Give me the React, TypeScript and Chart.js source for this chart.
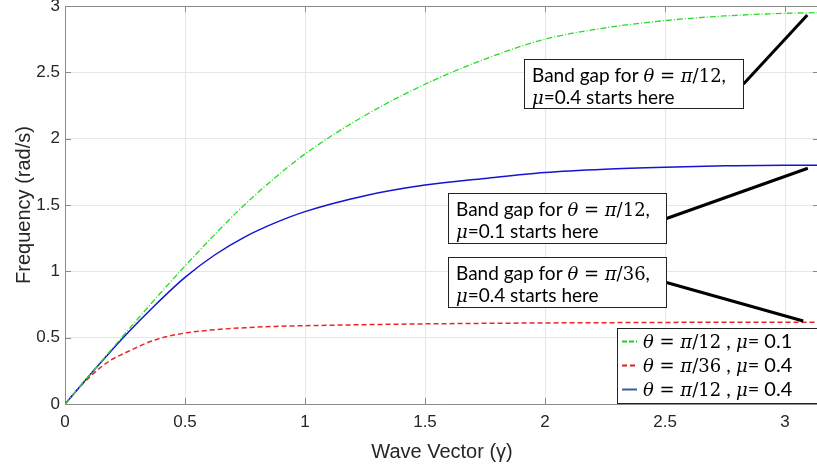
import { useEffect, useRef } from 'react';
import { Chart, registerables } from 'chart.js';

Chart.register(...registerables);

// ---- data ----
const gamma = [0, 0.0625, 0.125, 0.1875, 0.25, 0.375, 0.5, 0.625, 0.75, 0.875, 1.0, 1.25, 1.5, 1.75, 2.0, 2.25, 2.5, 2.75, 3.0, 3.1416];
const freqPi12Mu01 = [0, 0.133, 0.266, 0.398, 0.53, 0.79, 1.04, 1.28, 1.505, 1.705, 1.885, 2.175, 2.41, 2.6, 2.75, 2.835, 2.89, 2.925, 2.945, 2.95];
const freqPi36Mu04 = [0, 0.13, 0.24, 0.327, 0.385, 0.483, 0.535, 0.56, 0.575, 0.585, 0.59, 0.598, 0.604, 0.608, 0.611, 0.613, 0.615, 0.616, 0.617, 0.617];
const freqPi12Mu04 = [0, 0.132, 0.263, 0.39, 0.515, 0.745, 0.955, 1.125, 1.26, 1.365, 1.45, 1.57, 1.65, 1.7, 1.745, 1.77, 1.785, 1.795, 1.8, 1.8];

const xTickValues = [0, 0.5, 1, 1.5, 2, 2.5, 3];
const yTickValues = [0, 0.5, 1, 1.5, 2, 2.5, 3];
const xTitle = 'Wave Vector (\u03b3)';
const yTitle = 'Frequency (rad/s)';

type Seg = [string, 'sans' | 'math' | 'mathI' | 'lsans'];

const legendRows: Seg[][] = [
  [['\u03b8', 'mathI'], [' = ', 'math'], ['\u03c0', 'mathI'], ['/12', 'math'], [' , ', 'lsans'], ['\u03bc', 'mathI'], ['= 0.1', 'lsans']],
  [['\u03b8', 'mathI'], [' = ', 'math'], ['\u03c0', 'mathI'], ['/36', 'math'], [' , ', 'lsans'], ['\u03bc', 'mathI'], ['= 0.4', 'lsans']],
  [['\u03b8', 'mathI'], [' = ', 'math'], ['\u03c0', 'mathI'], ['/12', 'math'], [' , ', 'lsans'], ['\u03bc', 'mathI'], ['= 0.4', 'lsans']],
];

// annotation boxes: anchor of box (data units), connector end (data units)
const annotations = [
  {
    box: { x: 1.9125, y: 2.6 }, w: 219, h: 49,
    end: { x: 3.093, y: 2.932 },
    lines: [
      [['Band gap for ', 'sans'], ['\u03b8', 'mathI'], [' = ', 'math'], ['\u03c0', 'mathI'], ['/12', 'math'], [',', 'sans']],
      [['\u03bc', 'mathI'], ['=0.4 starts here', 'sans']],
    ] as Seg[][],
  },
  {
    box: { x: 1.597, y: 1.593 }, w: 218, h: 50,
    end: { x: 3.095, y: 1.777 },
    lines: [
      [['Band gap for ', 'sans'], ['\u03b8', 'mathI'], [' = ', 'math'], ['\u03c0', 'mathI'], ['/12', 'math'], [',', 'sans']],
      [['\u03bc', 'mathI'], ['=0.1 starts here', 'sans']],
    ] as Seg[][],
  },
  {
    box: { x: 1.597, y: 1.106 }, w: 218, h: 50,
    end: { x: 3.076, y: 0.626 },
    lines: [
      [['Band gap for ', 'sans'], ['\u03b8', 'mathI'], [' = ', 'math'], ['\u03c0', 'mathI'], ['/36', 'math'], [',', 'sans']],
      [['\u03bc', 'mathI'], ['=0.4 starts here', 'sans']],
    ] as Seg[][],
  },
];

const FONTS: Record<string, string> = {
  sans: '19px Lato',
  lsans: '20px Lato',
  math: '18px "DejaVu Serif"',
  mathI: 'italic 18px "DejaVu Serif"',
};

const AXIS_COLOR = '#8a8a8a';
const TEXT_COLOR = '#262626';

function drawRich(ctx: CanvasRenderingContext2D, segs: Seg[], x: number, y: number) {
  let cx = x;
  for (const [t, f] of segs) {
    ctx.font = FONTS[f];
    ctx.fillText(t, cx, y);
    cx += ctx.measureText(t).width;
  }
}

const axisDecor = {
  id: 'axisDecor',
  beforeDatasetsDraw(chart: any) {
    const { ctx, chartArea: a, scales } = chart;
    const x = scales.x, y = scales.y;
    ctx.save();
    ctx.strokeStyle = AXIS_COLOR;
    ctx.lineWidth = 1;
    ctx.beginPath();
    ctx.moveTo(a.left, a.top + 0.5);
    ctx.lineTo(a.right, a.top + 0.5);
    ctx.moveTo(a.right - 0.5, a.top);
    ctx.lineTo(a.right - 0.5, a.bottom);
    for (const v of xTickValues) {
      const px = Math.round(x.getPixelForValue(v)) + 0.5;
      ctx.moveTo(px, a.bottom);
      ctx.lineTo(px, a.bottom - 6);
      ctx.moveTo(px, a.top);
      ctx.lineTo(px, a.top + 6);
    }
    for (const v of yTickValues) {
      const py = Math.round(y.getPixelForValue(v)) + 0.5;
      ctx.moveTo(a.left, py);
      ctx.lineTo(a.left + 6, py);
      ctx.moveTo(a.right, py);
      ctx.lineTo(a.right - 6, py);
    }
    ctx.stroke();
    ctx.restore();
  },
};

const overlays = {
  id: 'overlays',
  afterDraw(chart: any) {
    const { ctx, scales } = chart;
    const x = scales.x, y = scales.y;
    ctx.save();
    ctx.textBaseline = 'alphabetic';
    ctx.textAlign = 'left';
    // annotations
    for (const an of annotations) {
      const bx = Math.round(x.getPixelForValue(an.box.x)) + 0.5;
      const by = Math.round(y.getPixelForValue(an.box.y)) + 0.5;
      const ex = x.getPixelForValue(an.end.x);
      const ey = y.getPixelForValue(an.end.y);
      ctx.strokeStyle = '#000';
      ctx.lineWidth = 3;
      ctx.beginPath();
      ctx.moveTo(bx + an.w, by + an.h / 2);
      ctx.lineTo(ex, ey);
      ctx.stroke();
      ctx.fillStyle = '#fff';
      ctx.fillRect(bx, by, an.w, an.h);
      ctx.strokeStyle = '#222';
      ctx.lineWidth = 1;
      ctx.strokeRect(bx, by, an.w, an.h);
      ctx.fillStyle = '#000';
      drawRich(ctx, an.lines[0], bx + 7.5, by + 22);
      drawRich(ctx, an.lines[1], bx + 7.5, by + 44.5);
    }
    // legend
    const lx = 617.5, ly = 328.5;
    ctx.fillStyle = '#fff';
    ctx.fillRect(lx, ly, chart.width - lx + 5, 75);
    ctx.strokeStyle = '#222';
    ctx.lineWidth = 1;
    ctx.strokeRect(lx, ly, chart.width - lx + 5, 75);
    chart.data.datasets.forEach((ds: any, i: number) => {
      const base = 347.5 + i * 24;
      ctx.strokeStyle = ds.legendColor;
      ctx.lineWidth = 2;
      ctx.setLineDash(ds.legendDash);
      ctx.beginPath();
      ctx.moveTo(622, base - 6);
      ctx.lineTo(637, base - 6);
      ctx.stroke();
      ctx.setLineDash([]);
      ctx.fillStyle = '#000';
      drawRich(ctx, legendRows[i], 643, base);
    });
    ctx.restore();
  },
};

export default function App() {
  const ref = useRef<HTMLCanvasElement | null>(null);
  useEffect(() => {
    if (!ref.current) return;
    const pts = (vals: number[]) => gamma.map((g, i) => ({ x: g, y: vals[i] }));
    const chart = new Chart(ref.current, {
      type: 'line',
      data: {
        datasets: [
          {
            label: '\u03b8 = \u03c0/12 , \u03bc= 0.1',
            data: pts(freqPi12Mu01),
            borderColor: '#25dd25',
            borderWidth: 1.3,
            borderDash: [6, 2, 1, 2],
            pointRadius: 0,
            cubicInterpolationMode: 'monotone',
            order: 0,
            legendColor: '#22cc22',
            legendDash: [5, 2],
          } as any,
          {
            label: '\u03b8 = \u03c0/36 , \u03bc= 0.4',
            data: pts(freqPi36Mu04),
            borderColor: '#e8262a',
            borderWidth: 1.5,
            borderDash: [5, 3],
            pointRadius: 0,
            cubicInterpolationMode: 'monotone',
            order: 2,
            legendColor: '#e02020',
            legendDash: [5, 3],
          } as any,
          {
            label: '\u03b8 = \u03c0/12 , \u03bc= 0.4',
            data: pts(freqPi12Mu04),
            borderColor: '#1414d2',
            borderWidth: 1.5,
            pointRadius: 0,
            cubicInterpolationMode: 'monotone',
            order: 1,
            legendColor: '#3a5aa8',
            legendDash: [],
          } as any,
        ],
      },
      options: {
        animation: false,
        responsive: false,
        devicePixelRatio: 1,
        layout: { padding: { top: 6, right: 3, bottom: 0, left: 0 } },
        plugins: { legend: { display: false }, tooltip: { enabled: false } },
        scales: {
          x: {
            type: 'linear',
            min: 0,
            max: Math.PI,
            grid: { color: '#e6e6e6', drawTicks: false },
            border: { color: AXIS_COLOR },
            ticks: {
              stepSize: 0.5,
              includeBounds: false,
              padding: 8,
              color: TEXT_COLOR,
              font: { family: '"Liberation Sans", Arial, sans-serif', size: 17 },
              callback: (v: any) => (xTickValues.includes(Number(v)) ? String(v) : ''),
              maxRotation: 0,
            },
            title: {
              display: true,
              text: xTitle,
              color: TEXT_COLOR,
              font: { family: '"Liberation Sans", Arial, sans-serif', size: 20 },
              padding: { top: 0, bottom: 1 },
            },
            afterFit(s: any) {
              s.height = 61;
              s.paddingLeft = 0;
              s.paddingRight = 0;
            },
          },
          y: {
            type: 'linear',
            min: 0,
            max: 3,
            grid: { color: '#e6e6e6', drawTicks: false },
            border: { color: AXIS_COLOR },
            ticks: {
              stepSize: 0.5,
              padding: 5,
              color: TEXT_COLOR,
              font: { family: '"Liberation Sans", Arial, sans-serif', size: 17 },
              callback: (v: any) => (yTickValues.includes(Number(v)) ? String(v) : ''),
            },
            title: {
              display: true,
              text: yTitle,
              color: TEXT_COLOR,
              font: { family: '"Liberation Sans", Arial, sans-serif', size: 20 },
              padding: { top: 12, bottom: 0 },
            },
            afterFit(s: any) {
              s.width = 65;
              s.paddingTop = 0;
              s.paddingBottom = 0;
            },
          },
        },
      } as any,
      plugins: [axisDecor, overlays],
    });
    return () => chart.destroy();
  }, []);

  return (
    <div style={{ position: 'fixed', left: 0, top: 0, width: 817, height: 465, overflow: 'hidden', background: '#fff' }}>
      <canvas ref={ref} width={822} height={465} style={{ display: 'block', width: 822, height: 465 }} />
    </div>
  );
}
